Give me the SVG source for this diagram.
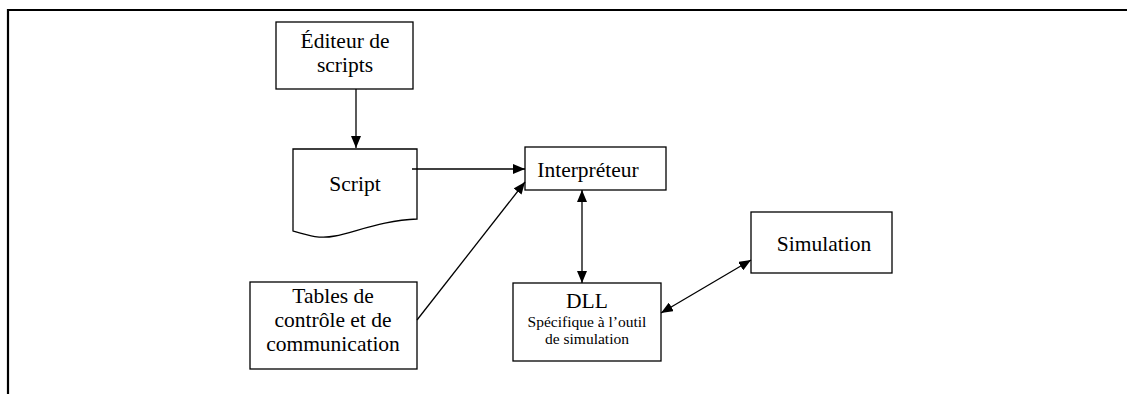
<svg xmlns="http://www.w3.org/2000/svg" width="1127" height="394" viewBox="0 0 1127 394">
<style>
.box{fill:#fff;stroke:#000;stroke-width:1.3}
.t{font-family:"Liberation Serif","Times New Roman",serif;font-size:21.5px;fill:#000;text-anchor:middle}
.s{font-size:15.5px}
.c{stroke:#000;stroke-width:1.3;fill:none}
</style>
<defs>
<marker id="ah" viewBox="0 0 12 10" refX="12" refY="5" markerWidth="12" markerHeight="10" markerUnits="userSpaceOnUse" orient="auto-start-reverse">
<path d="M0,0 L12,5 L0,10 Z" fill="#000"/>
</marker>
</defs>
<g id="frame">
<line x1="8" y1="10" x2="1127" y2="10" stroke="#000" stroke-width="2.2"/>
<line x1="8" y1="9" x2="8" y2="394" stroke="#000" stroke-width="2.2"/>
</g>
<g id="editeur">
<rect class="box" x="276" y="22" width="137" height="67"/>
<text class="t" x="345" y="48">Éditeur de</text>
<text class="t" x="345" y="72">scripts</text>
</g>
<g id="script">
<path class="box" d="M293,149 H417 V219 C385,220 355,232 335,236 C320,239 310,236 293,231 Z"/>
<text class="t" x="355" y="191">Script</text>
</g>
<g id="interpreteur">
<rect class="box" x="525" y="147" width="141" height="43"/>
<text class="t" x="588" y="177">Interpréteur</text>
</g>
<g id="simulation">
<rect class="box" x="751" y="212" width="141" height="61"/>
<text class="t" x="824" y="251">Simulation</text>
</g>
<g id="dll">
<rect class="box" x="513" y="283" width="148" height="78"/>
<text class="t" x="587" y="308">DLL</text>
<text class="t s" x="587" y="327">Spécifique à l’outil</text>
<text class="t s" x="587" y="344">de simulation</text>
</g>
<g id="tables">
<rect class="box" x="250" y="282" width="167" height="87"/>
<text class="t" x="333" y="303">Tables de</text>
<text class="t" x="333" y="327">contrôle et de</text>
<text class="t" x="333" y="351">communication</text>
</g>
<g id="connectors">
<line class="c" x1="356" y1="89" x2="356" y2="148" marker-end="url(#ah)"/>
<line class="c" x1="412" y1="169" x2="525" y2="169" marker-end="url(#ah)"/>
<line class="c" x1="417" y1="320" x2="525" y2="182" marker-end="url(#ah)"/>
<line class="c" x1="582" y1="190" x2="582" y2="283" marker-start="url(#ah)" marker-end="url(#ah)"/>
<line class="c" x1="661" y1="313" x2="751" y2="260" marker-start="url(#ah)" marker-end="url(#ah)"/>
</g>
</svg>
